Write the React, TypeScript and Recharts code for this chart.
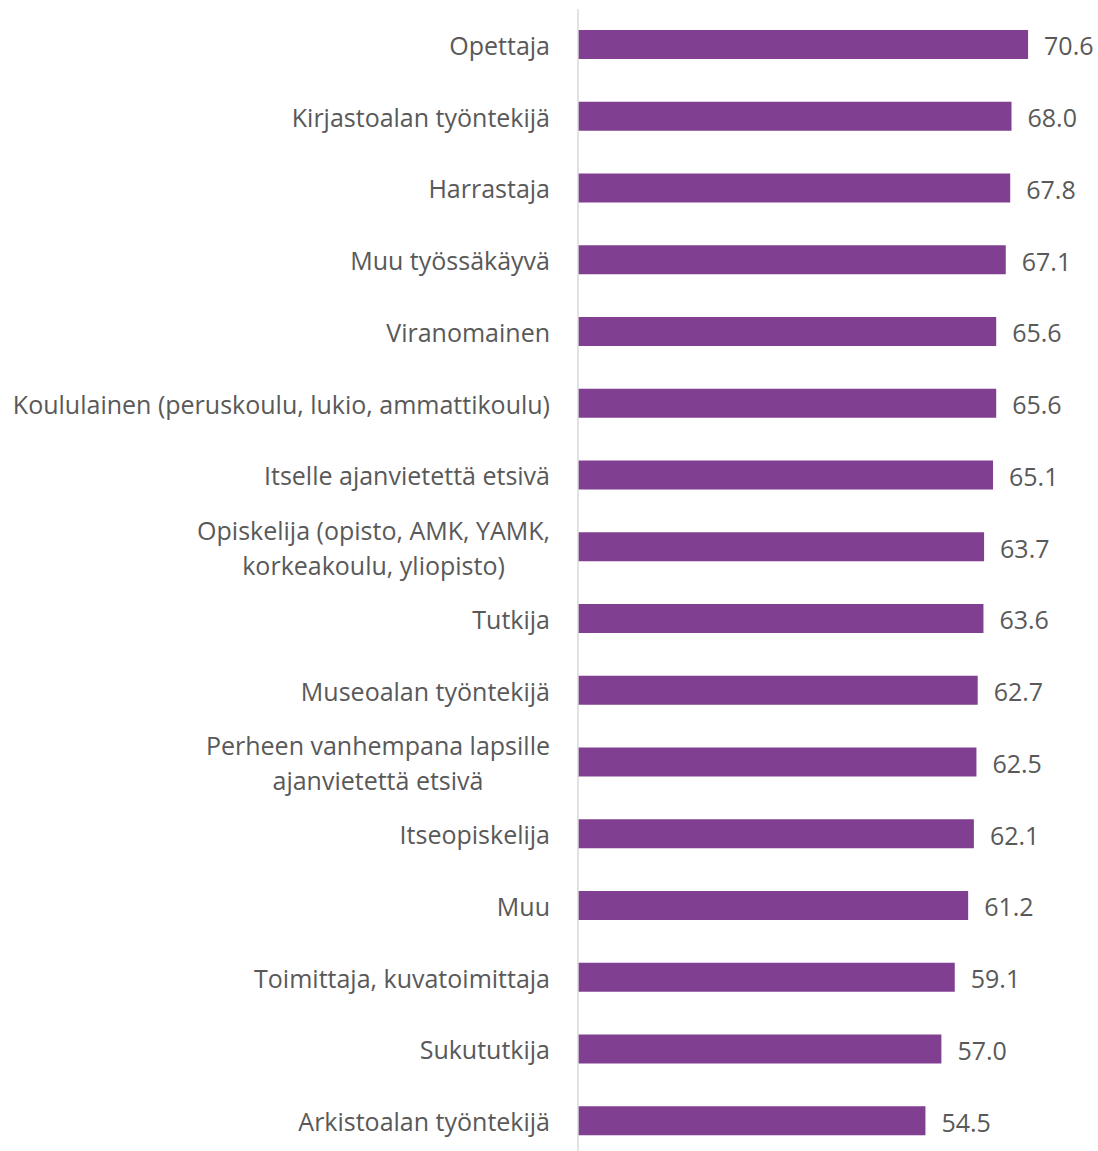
import { BarChart, Bar, XAxis, YAxis, LabelList } from "recharts";

const categories = [
  "Opettaja",
  "Kirjastoalan työntekijä",
  "Harrastaja",
  "Muu työssäkäyvä",
  "Viranomainen",
  "Koululainen (peruskoulu, lukio, ammattikoulu)",
  "Itselle ajanvietettä etsivä",
  "Opiskelija (opisto, AMK, YAMK,\nkorkeakoulu, yliopisto)",
  "Tutkija",
  "Museoalan työntekijä",
  "Perheen vanhempana lapsille\najanvietettä etsivä",
  "Itseopiskelija",
  "Muu",
  "Toimittaja, kuvatoimittaja",
  "Sukututkija",
  "Arkistoalan työntekijä",
];

const values = [70.6, 68.0, 67.8, 67.1, 65.6, 65.6, 65.1, 63.7, 63.6, 62.7, 62.5, 62.1, 61.2, 59.1, 57.0, 54.5];

const data = categories.map((name, i) => ({ name, value: values[i] }));

const FONT = "'Open Sans', sans-serif";
const FONT_SIZE = 25;
const TEXT = "#595959";
const PURPLE = "#803F91";

let ctx: CanvasRenderingContext2D | null = null;
function measure(s: string) {
  if (!ctx) ctx = document.createElement("canvas").getContext("2d");
  if (!ctx) return s.length * FONT_SIZE * 0.5;
  ctx.font = `${FONT_SIZE}px ${FONT}`;
  return ctx.measureText(s).width;
}

function CategoryTick({ x, y, payload }: any) {
  const lines: string[] = String(payload.value).split("\n");
  if (lines.length === 1) {
    return (
      <text x={x} y={y} dy="0.4em" textAnchor="end" fill={TEXT} fontSize={FONT_SIZE} fontFamily={FONT}>
        {lines[0]}
      </text>
    );
  }
  const maxW = Math.max(...lines.map(measure));
  const cx = x - maxW / 2;
  const lh = 35;
  return (
    <text textAnchor="middle" fill={TEXT} fontSize={FONT_SIZE} fontFamily={FONT}>
      {lines.map((l, i) => (
        <tspan key={i} x={cx} y={y + (i - (lines.length - 1) / 2) * lh} dy="0.4em">
          {l}
        </tspan>
      ))}
    </text>
  );
}

export default function App() {
  return (
    <div style={{ position: "absolute", left: 0, top: 0, background: "#fff" }}>
      <BarChart
        width={1098}
        height={1160}
        data={data}
        layout="vertical"
        margin={{ top: 9, right: 10, bottom: 3, left: 0 }}
        barCategoryGap={0}
      >
        <XAxis type="number" domain={[0, 80]} hide />
        <YAxis
          type="category"
          dataKey="name"
          width={578}
          tickSize={0}
          tickMargin={28}
          tickLine={false}
          axisLine={{ stroke: "#D9D9D9", strokeWidth: 1.5 }}
          tick={<CategoryTick />}
          interval={0}
        />
        <Bar dataKey="value" fill={PURPLE} barSize={29} isAnimationActive={false}>
          <LabelList
            dataKey="value"
            position="right"
            offset={16}
            fill={TEXT}
            fontSize={FONT_SIZE}
            fontFamily={FONT}
            dy={2}
            formatter={(v: any) => Number(v).toFixed(1)}
          />
        </Bar>
      </BarChart>
    </div>
  );
}
